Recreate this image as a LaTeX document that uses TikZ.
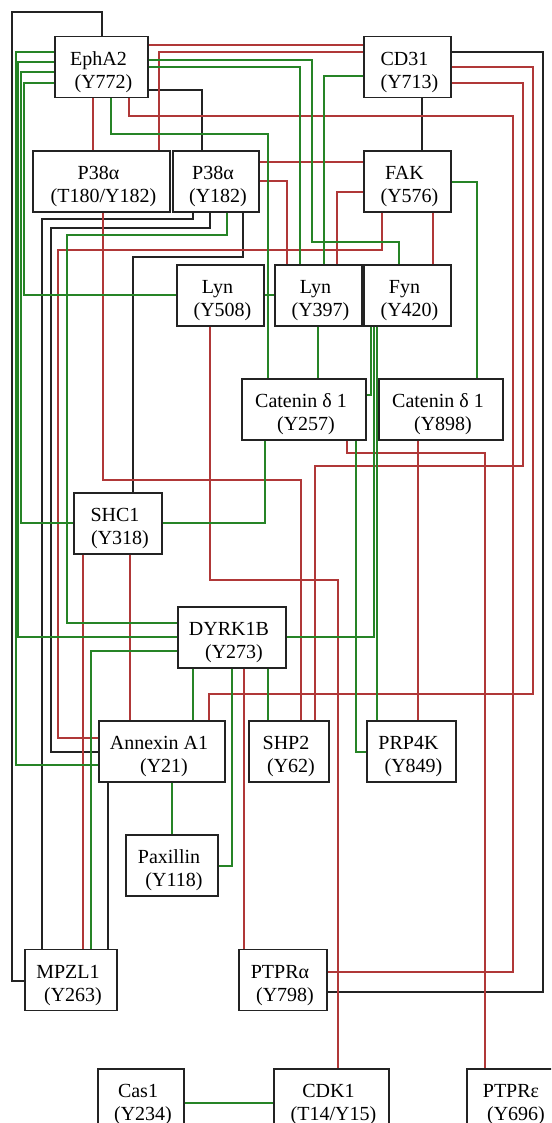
\documentclass[tikz,border=0pt]{standalone}
\usepackage{fontspec}
\setmainfont{Liberation Serif}
\definecolor{lnred}{RGB}{176,56,56}
\definecolor{lngreen}{RGB}{38,132,38}
\definecolor{lnblack}{RGB}{35,35,35}
\newcommand\boxtext[2]{\rule{0pt}{24pt}#1\hspace*{6pt}\\\hspace*{4pt}#2}
\begin{document}
\begin{tikzpicture}[x=1pt,y=-1pt,
  pbox/.style={draw=lnblack, line width=1.4pt, fill=white, rectangle, inner sep=0pt,
    minimum height=61pt, align=center, font=\fontsize{20}{23}\selectfont},
  bk/.style={draw=lnblack,line width=1.2pt},
  rd/.style={draw=lnred,line width=1.2pt},
  gn/.style={draw=lngreen,line width=1.2pt}]
\clip (0,0) rectangle (551,1123);
\fill[white] (0,0) rectangle (551,1123);
% nodes
\node[pbox, minimum width=93pt] (epha2) at (101.5,67) {\boxtext{EphA2}{(Y772)}};
\node[pbox, minimum width=87pt] (cd31) at (407.5,67) {\boxtext{CD31}{(Y713)}};
\node[pbox, minimum width=137pt] (p38t) at (101.5,181.5) {\boxtext{P38α}{(T180/Y182)}};
\node[pbox, minimum width=86pt] (p38y) at (216,181.5) {\boxtext{P38α}{(Y182)}};
\node[pbox, minimum width=87pt] (fak) at (407.5,181.5) {\boxtext{FAK}{(Y576)}};
\node[pbox, minimum width=87pt] (lyn508) at (220.5,295.5) {\boxtext{Lyn}{(Y508)}};
\node[pbox, minimum width=87pt] (lyn397) at (318.5,295.5) {\boxtext{Lyn}{(Y397)}};
\node[pbox, minimum width=87pt] (fyn) at (407.5,295.5) {\boxtext{Fyn}{(Y420)}};
\node[pbox, minimum width=124pt] (cat257) at (304,409.5) {\boxtext{Catenin δ 1}{(Y257)}};
\node[pbox, minimum width=124pt] (cat898) at (441,409.5) {\boxtext{Catenin δ 1}{(Y898)}};
\node[pbox, minimum width=88pt] (shc1) at (118,523.5) {\boxtext{SHC1}{(Y318)}};
\node[pbox, minimum width=108pt] (dyrk) at (232,637.5) {\boxtext{DYRK1B}{(Y273)}};
\node[pbox, minimum width=126pt] (annex) at (162,751.5) {\boxtext{Annexin A1}{(Y21)}};
\node[pbox, minimum width=80pt] (shp2) at (289,751.5) {\boxtext{SHP2}{(Y62)}};
\node[pbox, minimum width=89pt] (prp4k) at (411.5,751.5) {\boxtext{PRP4K}{(Y849)}};
\node[pbox, minimum width=92pt] (paxil) at (172,865.5) {\boxtext{Paxillin}{(Y118)}};
\node[pbox, minimum width=92pt] (mpzl1) at (71,980) {\boxtext{MPZL1}{(Y263)}};
\node[pbox, minimum width=88pt] (ptpra) at (283,980) {\boxtext{PTPRα}{(Y798)}};
\node[pbox, minimum width=86pt] (cas1) at (141,1099.5) {\boxtext{Cas1}{(Y234)}};
\node[pbox, minimum width=115pt] (cdk1) at (331.5,1099.5) {\boxtext{CDK1}{(T14/Y15)}};
\node[pbox, minimum width=94pt] (ptpre) at (514,1099.5) {\boxtext{PTPRε}{(Y696)}};
% black connectors
\draw[bk] (epha2.north -| 102,0) |- (12,12) |- (mpzl1.west |- 0,981);
\draw[bk] (epha2.east |- 0,90) -| (p38y.north -| 202,0);
\draw[bk] (cd31.south -| 422,0) -- (fak.north -| 422,0);
\draw[bk] (cd31.east |- 0,52) -| (543,992) -- (ptpra.east |- 0,992);
\draw[bk] (p38y.south -| 193,0) |- (42,219) -- (mpzl1.north -| 42,0);
\draw[bk] (p38y.south -| 210,0) |- (51,228) |- (annex.west |- 0,752);
\draw[bk] (p38y.south -| 243,0) |- (133,257) -- (shc1.north -| 133,0);
\draw[bk] (annex.south -| 108,0) -- (mpzl1.north -| 108,0);
\draw[bk] (lyn397.east |- 0,287) -- (fyn.west |- 0,287);
% red connectors
\draw[rd] (epha2.east |- 0,45) -- (cd31.west |- 0,45);
\draw[rd] (p38t.north -| 159,0) |- (cd31.west |- 0,52);
\draw[rd] (epha2.south -| 93,0) -- (p38t.north -| 93,0);
\draw[rd] (epha2.south -| 129,0) |- (513,116) |- (ptpra.east |- 0,972);
\draw[rd] (cd31.east |- 0,67) -| (533,694) -| (annex.north -| 209,0);
\draw[rd] (cd31.east |- 0,83) -| (523,466) -| (shp2.north -| 315,0);
\draw[rd] (p38y.east |- 0,162) -- (fak.west |- 0,162);
\draw[rd] (p38y.east |- 0,181) -| (lyn397.north -| 287,0);
\draw[rd] (fak.west |- 0,192) -| (lyn397.north -| 337,0);
\draw[rd] (fak.south -| 382,0) |- (58,250) |- (annex.west |- 0,738);
\draw[rd] (fak.south -| 433,0) -- (fyn.north -| 433,0);
\draw[rd] (p38t.south -| 103,0) |- (301,480) -- (shp2.north -| 301,0);
\draw[rd] (lyn508.south -| 210,0) |- (338,580) -- (cdk1.north -| 338,0);
\draw[rd] (cat257.south -| 347,0) |- (485,453) -- (ptpre.north -| 485,0);
\draw[rd] (cat898.south -| 418,0) -- (prp4k.north -| 418,0);
\draw[rd] (shc1.south -| 83,0) -- (mpzl1.north -| 83,0);
\draw[rd] (shc1.south -| 130,0) -- (annex.north -| 130,0);
\draw[rd] (dyrk.south -| 244,0) -- (ptpra.north -| 244,0);
% green connectors
\draw[gn] (epha2.west |- 0,52) -| (16,765) -- (annex.west |- 0,765);
\draw[gn] (epha2.west |- 0,62) -| (18,637) -- (dyrk.west |- 0,637);
\draw[gn] (epha2.west |- 0,72) -| (21,523) -- (shc1.west |- 0,523);
\draw[gn] (epha2.west |- 0,83) -| (24,295) -- (lyn508.west |- 0,295);
\draw[gn] (epha2.east |- 0,60) -| (312,242) -| (fyn.north -| 399,0);
\draw[gn] (epha2.east |- 0,67) -| (lyn397.north -| 300,0);
\draw[gn] (cd31.west |- 0,76) -| (lyn397.north -| 324,0);
\draw[gn] (epha2.south -| 111,0) |- (268,134) -- (cat257.north -| 268,0);
\draw[gn] (fak.east |- 0,182) -| (cat898.north -| 477,0);
\draw[gn] (p38y.south -| 227,0) |- (67,235) |- (dyrk.west |- 0,623);
\draw[gn] (lyn508.east |- 0,295) -- (lyn397.west |- 0,295);
\draw[gn] (lyn397.south -| 318,0) -- (cat257.north -| 318,0);
\draw[gn] (fyn.south -| 371,0) |- (cat257.east |- 0,395);
\draw[gn] (fyn.south -| 374,0) |- (dyrk.east |- 0,637);
\draw[gn] (fyn.south -| 377,0) -- (prp4k.north -| 377,0);
\draw[gn] (cat257.south -| 356,0) |- (prp4k.west |- 0,752);
\draw[gn] (shc1.east |- 0,523) -| (cat257.south -| 265,0);
\draw[gn] (dyrk.west |- 0,651) -| (mpzl1.north -| 91,0);
\draw[gn] (dyrk.south -| 193,0) -- (annex.north -| 193,0);
\draw[gn] (dyrk.south -| 232,0) |- (paxil.east |- 0,866);
\draw[gn] (dyrk.south -| 268,0) -- (shp2.north -| 268,0);
\draw[gn] (annex.south -| 172,0) -- (paxil.north -| 172,0);
\draw[gn] (cas1.east |- 0,1103) -- (cdk1.west |- 0,1103);
\end{tikzpicture}
\end{document}
